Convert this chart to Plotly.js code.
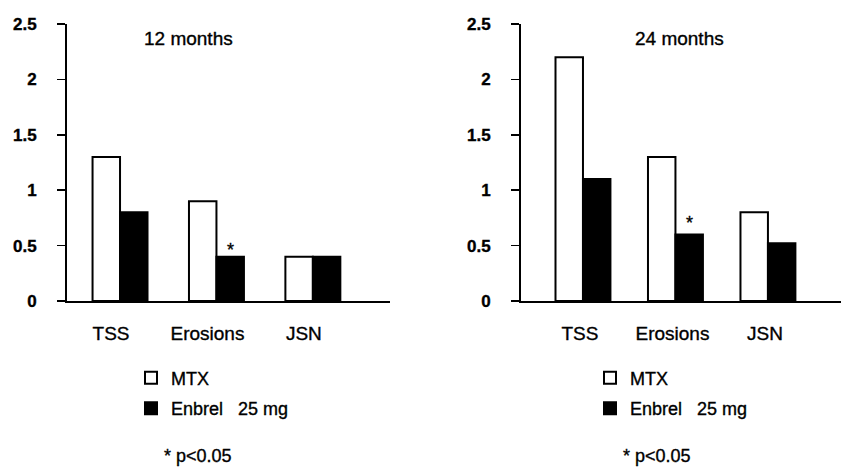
<!DOCTYPE html>
<html>
<head>
<meta charset="utf-8">
<script src="https://cdn.plot.ly/plotly-3.0.1.min.js"></script>
<style>
html,body{margin:0;padding:0;background:#fff;}
#chart{width:841px;height:470px;}
#chart text{stroke:#000;stroke-width:0.35px;}
</style>
</head>
<body>
<div id="chart"></div>
<script>
const categories = ["TSS", "Erosions", "JSN"];
const mtx12 = [1.3, 0.9, 0.4];
const enbrel12 = [0.8, 0.4, 0.4];
const mtx24 = [2.2, 1.3, 0.8];
const enbrel24 = [1.1, 0.6, 0.52];
const yTicks = [0, 0.5, 1, 1.5, 2, 2.5];
const yTickText = ["0", "0.5", "1", "1.5", "2", "2.5"];
const seriesNames = ["MTX", "Enbrel\u00A0\u00A0 25 mg"];
const panelTitles = ["12 months", "24 months"];
const sigCategory = 1; // Erosions
const sigNote = "* p<0.05";

const FONT = "Liberation Sans, Arial, sans-serif";
const idx = categories.map((c, i) => i);
const w1 = 0.285, w2 = 0.297;
const r1 = [-0.55, 2.8], r2 = [-0.67, 2.79];

function bars(vals, name, fill, xa, ya, w, off, leg) {
  return {
    type: "bar", x: idx, y: vals, name: name, xaxis: xa, yaxis: ya,
    width: w, offset: off, legend: leg, legendgroup: leg + name,
    marker: {color: fill, line: {color: "#000", width: 2}},
    hoverinfo: "skip"
  };
}

const data = [
  bars(mtx12, seriesNames[0], "#fff", "x", "y", w1, -w1, "legend"),
  bars(enbrel12, seriesNames[1], "#000", "x", "y", w1, 0, "legend"),
  bars(mtx24, seriesNames[0], "#fff", "x2", "y2", w2, -w2, "legend2"),
  bars(enbrel24, seriesNames[1], "#000", "x2", "y2", w2, 0, "legend2")
];

const yDom = [0.3596, 0.949];
function yax(anchor) {
  return {
    domain: yDom, anchor: anchor, range: [0, 2.5], tickvals: yTicks, ticktext: yTickText,
    ticks: "outside", ticklen: 8, tickwidth: 1.5, tickcolor: "#000",
    showline: true, linecolor: "#000", linewidth: 2, showgrid: false, zeroline: false,
    tickfont: {family: FONT, size: 17, color: "#000", weight: "bold"}, ticklabelstandoff: 17,
    fixedrange: true
  };
}
function xax(dom, range, anchor, shift) {
  return {
    domain: dom, range: range, anchor: anchor, tickvals: idx, ticktext: categories,
    ticks: "", showline: true, linecolor: "#000", linewidth: 2, showgrid: false, zeroline: false,
    tickfont: {family: FONT, size: 19, color: "#000"}, ticklabelstandoff: 14, ticklabelshift: shift,
    fixedrange: true
  };
}
function tickAx(dom, range, over, anchor) {
  return {
    domain: dom, range: range, overlaying: over, anchor: anchor,
    tickvals: [range[0], 0.5, 1.5], ticks: "outside", ticklen: 9, tickwidth: 1.5, tickcolor: "#000",
    showticklabels: false, showline: false, showgrid: false, zeroline: false, fixedrange: true
  };
}

const d1 = [67/841, 390/841], d2 = [521/841, 1];

const legendBase = {
  yanchor: "top", xanchor: "left", y: 0.235, bgcolor: "rgba(0,0,0,0)",
  font: {family: FONT, size: 18, color: "#000"}, traceorder: "grouped", tracegroupgap: 4
};

const layout = {
  width: 841, height: 470, margin: {l: 0, r: 0, t: 0, b: 0},
  paper_bgcolor: "#fff", plot_bgcolor: "#fff", barmode: "overlay", showlegend: true,
  xaxis: xax(d1, r1, "y", -9),
  yaxis: yax("x"),
  xaxis2: xax(d2, r2, "y2", -3),
  yaxis2: yax("x2"),
  xaxis3: tickAx(d1, r1, "x", "y"),
  xaxis4: tickAx(d2, r2, "x2", "y2"),
  legend: Object.assign({x: 131/841}, legendBase),
  legend2: Object.assign({x: 590/841}, legendBase),
  annotations: [
    {xref: "paper", yref: "paper", x: 188/841, y: 1 - 39/470, text: panelTitles[0], showarrow: false,
     xanchor: "center", yanchor: "middle", font: {family: FONT, size: 19, color: "#000"}},
    {xref: "paper", yref: "paper", x: 679/841, y: 1 - 39/470, text: panelTitles[1], showarrow: false,
     xanchor: "center", yanchor: "middle", font: {family: FONT, size: 19, color: "#000"}},
    {xref: "x", yref: "y", x: sigCategory + w1/2, y: enbrel12[sigCategory], text: "*", showarrow: false,
     yanchor: "bottom", yshift: -5, font: {family: FONT, size: 18, color: "#000"}},
    {xref: "x2", yref: "y2", x: sigCategory + w2/2, y: enbrel24[sigCategory], text: "*", showarrow: false,
     yanchor: "bottom", yshift: 0, font: {family: FONT, size: 18, color: "#000"}},
    {xref: "paper", yref: "paper", x: 162/841, y: 1 - 456/470, text: sigNote, showarrow: false,
     xanchor: "left", yanchor: "middle", font: {family: FONT, size: 18, color: "#000"}},
    {xref: "paper", yref: "paper", x: 621/841, y: 1 - 456/470, text: sigNote, showarrow: false,
     xanchor: "left", yanchor: "middle", font: {family: FONT, size: 18, color: "#000"}}
  ]
};

Plotly.newPlot("chart", data, layout, {displayModeBar: false, staticPlot: true});
</script>
</body>
</html>
